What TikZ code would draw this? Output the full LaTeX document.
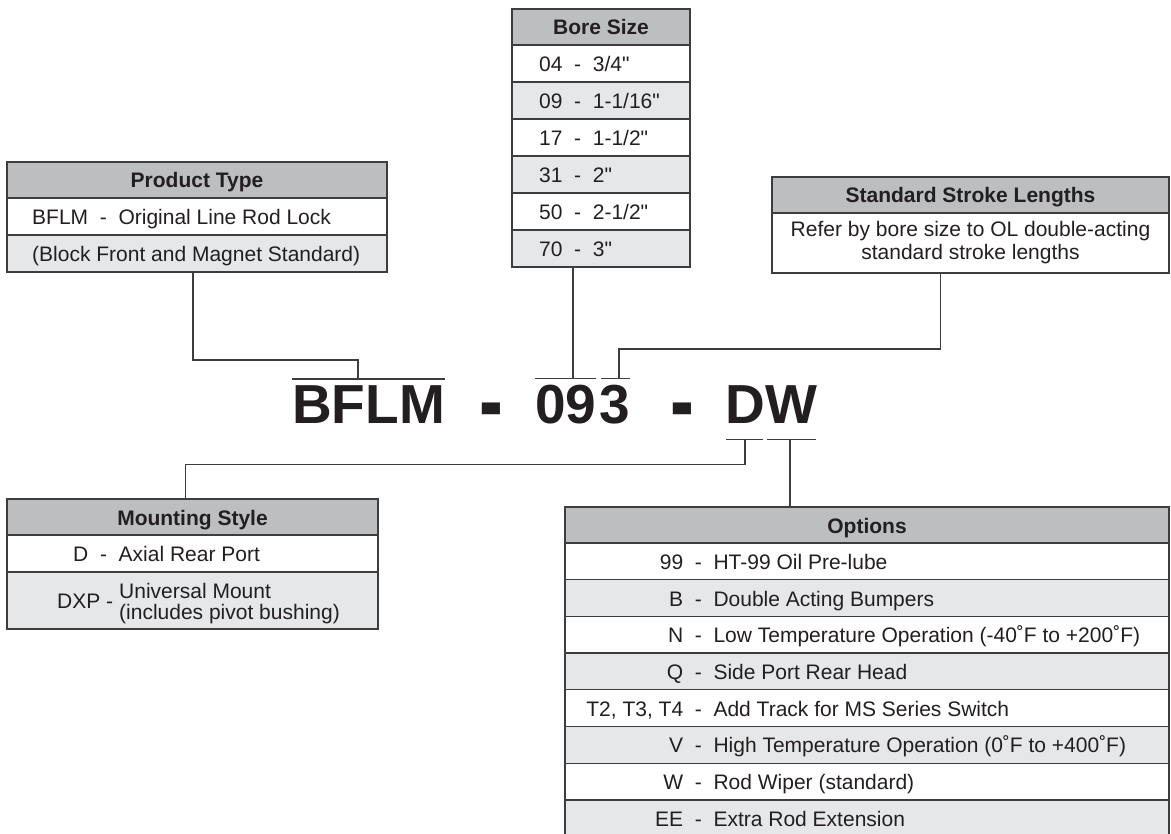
\documentclass[tikz,border=0pt]{standalone}
\usepackage{fontspec}
\newfontfamily\helv{Liberation Sans}
\usepackage{graphicx}
\usepackage{tikz}
\usetikzlibrary{positioning,calc}
\usepackage{xcolor}
\definecolor{headgray}{HTML}{BCBEC0}
\definecolor{rowgray}{HTML}{E6E7E8}
\definecolor{linegray}{HTML}{3D3D3D}
\definecolor{ink}{HTML}{231F20}
\newcommand\cellfont{\helv\fontsize{21}{23}\selectfont}
\newcommand\codefont{\helv\fontsize{55}{60}\selectfont\bfseries}
\newcommand\optcode[1]{\makebox[108pt][r]{#1}~~-~~}
\newcommand\bigdash{\raisebox{-11pt}{\scalebox{1.3}[1.8]{-}}}

\tikzset{
  cell/.style={draw=linegray, line width=1.3pt, inner sep=0pt, outer sep=0pt, minimum height=37pt},
  headcell/.style={cell, fill=headgray, minimum height=36pt, font=\cellfont\bfseries, text=ink, text height=16pt, text depth=0pt},
  whitecell/.style={cell, fill=white},
  greycell/.style={cell, fill=rowgray},
  txt/.style={inner sep=0pt, anchor=west, font=\cellfont, text=ink},
  celltext/.style={txt, text height=16pt, text depth=0pt},
  codetext/.style={inner sep=0pt, anchor=base west, font=\codefont, text=ink},
  conn/.style={draw=linegray, line width=1.3pt},
}

\begin{document}
\begin{tikzpicture}[x=1pt, y=1pt]
  \useasboundingbox (0,0) rectangle (1171,-834);
  \clip (0,0) rectangle (1171,-834);
  \fill[white] (0,0) rectangle (1171,-834);

  % Product type
  \node[headcell, minimum width=380pt, anchor=north west] (prodHd) at (7,-162) {Product Type};
  \node[whitecell, minimum width=380pt, below=0pt of prodHd] (prodA) {};
  \node[greycell, minimum width=380pt, below=0pt of prodA] (prodB) {};
  \node[celltext, right=25pt of prodA.west] (prodAt) {BFLM~~-~~Original Line Rod Lock};
  \node[celltext, right=25pt of prodB.west] (prodBt) {(Block Front and Magnet Standard)};

  % Bore size
  \node[headcell, minimum width=178pt, anchor=north west] (boreHd) at (512,-9) {Bore Size};
  \node[whitecell, minimum width=178pt, below=0pt of boreHd] (boreA) {};
  \node[greycell, minimum width=178pt, below=0pt of boreA] (boreB) {};
  \node[whitecell, minimum width=178pt, below=0pt of boreB] (boreC) {};
  \node[greycell, minimum width=178pt, below=0pt of boreC] (boreD) {};
  \node[whitecell, minimum width=178pt, below=0pt of boreD] (boreE) {};
  \node[greycell, minimum width=178pt, below=0pt of boreE] (boreF) {};
  \node[celltext, right=27pt of boreA.west] (boreAt) {04~~-~~3/4"};
  \node[celltext, right=27pt of boreB.west] (boreBt) {09~~-~~1-1/16"};
  \node[celltext, right=27pt of boreC.west] (boreCt) {17~~-~~1-1/2"};
  \node[celltext, right=27pt of boreD.west] (boreDt) {31~~-~~2"};
  \node[celltext, right=27pt of boreE.west] (boreEt) {50~~-~~2-1/2"};
  \node[celltext, right=27pt of boreF.west] (boreFt) {70~~-~~3"};

  % Standard stroke lengths
  \node[headcell, minimum width=397pt, anchor=north west] (strokeHd) at (772,-177) {Standard Stroke Lengths};
  \node[whitecell, minimum width=397pt, minimum height=60pt, below=0pt of strokeHd,
    font=\cellfont, text=ink, align=center] (strokeA)
    {Refer by bore size to OL double-acting\\standard stroke lengths};

  % Model code
  \node[codetext] (cBFLM) at (292,-424) {BFLM};
  \node[codetext] (cDashA) at (479,-424) {\bigdash};
  \node[codetext] (cNine) at (535,-424) {09};
  \node[codetext] (cThree) at (599,-424) {3};
  \node[codetext] (cDashB) at (670,-424) {\bigdash};
  \node[codetext] (cD) at (725,-424) {D};
  \node[codetext] (cW) at (765,-424) {W};

  \coordinate (tBFLM) at ($(cBFLM.north west)+(66,7)$);
  \coordinate (tNine) at ($(cNine.north west)+(38,7)$);
  \coordinate (tThree) at ($(cThree.north west)+(20,7)$);
  \coordinate (bD) at ($(cD.south west)+(20,-15)$);
  \coordinate (bW) at ($(cW.south west)+(25,-15)$);

  % over- and underlines
  \draw[conn] ([yshift=7pt]cBFLM.north west) -- ([yshift=7pt]cBFLM.north east);
  \draw[conn] ([shift={(0pt,7pt)}]cNine.north west) -- ([shift={(-1pt,7pt)}]cNine.north east);
  \draw[conn] ([shift={(2pt,7pt)}]cThree.north west) -- ([yshift=7pt]cThree.north east);
  \draw[conn] ([shift={(1pt,-15pt)}]cD.south west) -- ([shift={(-2pt,-15pt)}]cD.south east);
  \draw[conn] ([shift={(2pt,-15pt)}]cW.south west) -- ([shift={(-1pt,-15pt)}]cW.south east);

  % Mounting style
  \node[headcell, minimum width=371pt, anchor=north west] (mountHd) at (7,-499) {Mounting Style};
  \node[whitecell, minimum width=371pt, below=0pt of mountHd] (mountA) {};
  \node[greycell, minimum width=371pt, minimum height=57pt, below=0pt of mountA] (mountB) {};
  \node[celltext, right=66pt of mountA.west] (mountAt) {D~~-~~Axial Rear Port};
  \node[celltext, right=50pt of mountB.west] (mountBc) {DXP~-};
  \node[txt, align=left, right=112pt of mountB.west, yshift=-3pt] (mountBt)
    {Universal Mount\\[-2pt](includes pivot bushing)};

  % Options
  \node[headcell, minimum width=604pt, anchor=north west] (optHd) at (565,-507) {Options};
  \node[whitecell, minimum width=604pt, minimum height=36.7pt, below=0pt of optHd] (optA) {};
  \node[greycell, minimum width=604pt, minimum height=36.7pt, below=0pt of optA] (optB) {};
  \node[whitecell, minimum width=604pt, minimum height=36.7pt, below=0pt of optB] (optC) {};
  \node[greycell, minimum width=604pt, minimum height=36.7pt, below=0pt of optC] (optD) {};
  \node[whitecell, minimum width=604pt, minimum height=36.7pt, below=0pt of optD] (optE) {};
  \node[greycell, minimum width=604pt, minimum height=36.7pt, below=0pt of optE] (optF) {};
  \node[whitecell, minimum width=604pt, minimum height=36.7pt, below=0pt of optF] (optG) {};
  \node[greycell, minimum width=604pt, minimum height=36.7pt, below=0pt of optG] (optH) {};
  \node[celltext, right=10pt of optA.west] (optAt) {\optcode{99}HT-99 Oil Pre-lube};
  \node[celltext, right=10pt of optB.west] (optBt) {\optcode{B}Double Acting Bumpers};
  \node[celltext, right=10pt of optC.west] (optCt) {\optcode{N}Low Temperature Operation (-40˚F to +200˚F)};
  \node[celltext, right=10pt of optD.west] (optDt) {\optcode{Q}Side Port Rear Head};
  \node[celltext, right=10pt of optE.west] (optEt) {\optcode{T2, T3, T4}Add Track for MS Series Switch};
  \node[celltext, right=10pt of optF.west] (optFt) {\optcode{V}High Temperature Operation (0˚F to +400˚F)};
  \node[celltext, right=10pt of optG.west] (optGt) {\optcode{W}Rod Wiper (standard)};
  \node[celltext, right=10pt of optH.west] (optHt) {\optcode{EE}Extra Rod Extension};

  % Connectors
  \draw[conn] ([xshift=-4pt]prodB.south) -- ++(0,-88) -| (tBFLM);
  \draw[conn] (tNine |- boreF.south) -- (tNine);
  \draw[conn] ([xshift=-30pt]strokeA.south) -- ++(0,-76) -| (tThree);
  \draw[conn] (bD) -- ++(0,-25) -| ([xshift=-7pt]mountHd.north);
  \draw[conn] (bW) -- (bW |- optHd.north);
\end{tikzpicture}
\end{document}
